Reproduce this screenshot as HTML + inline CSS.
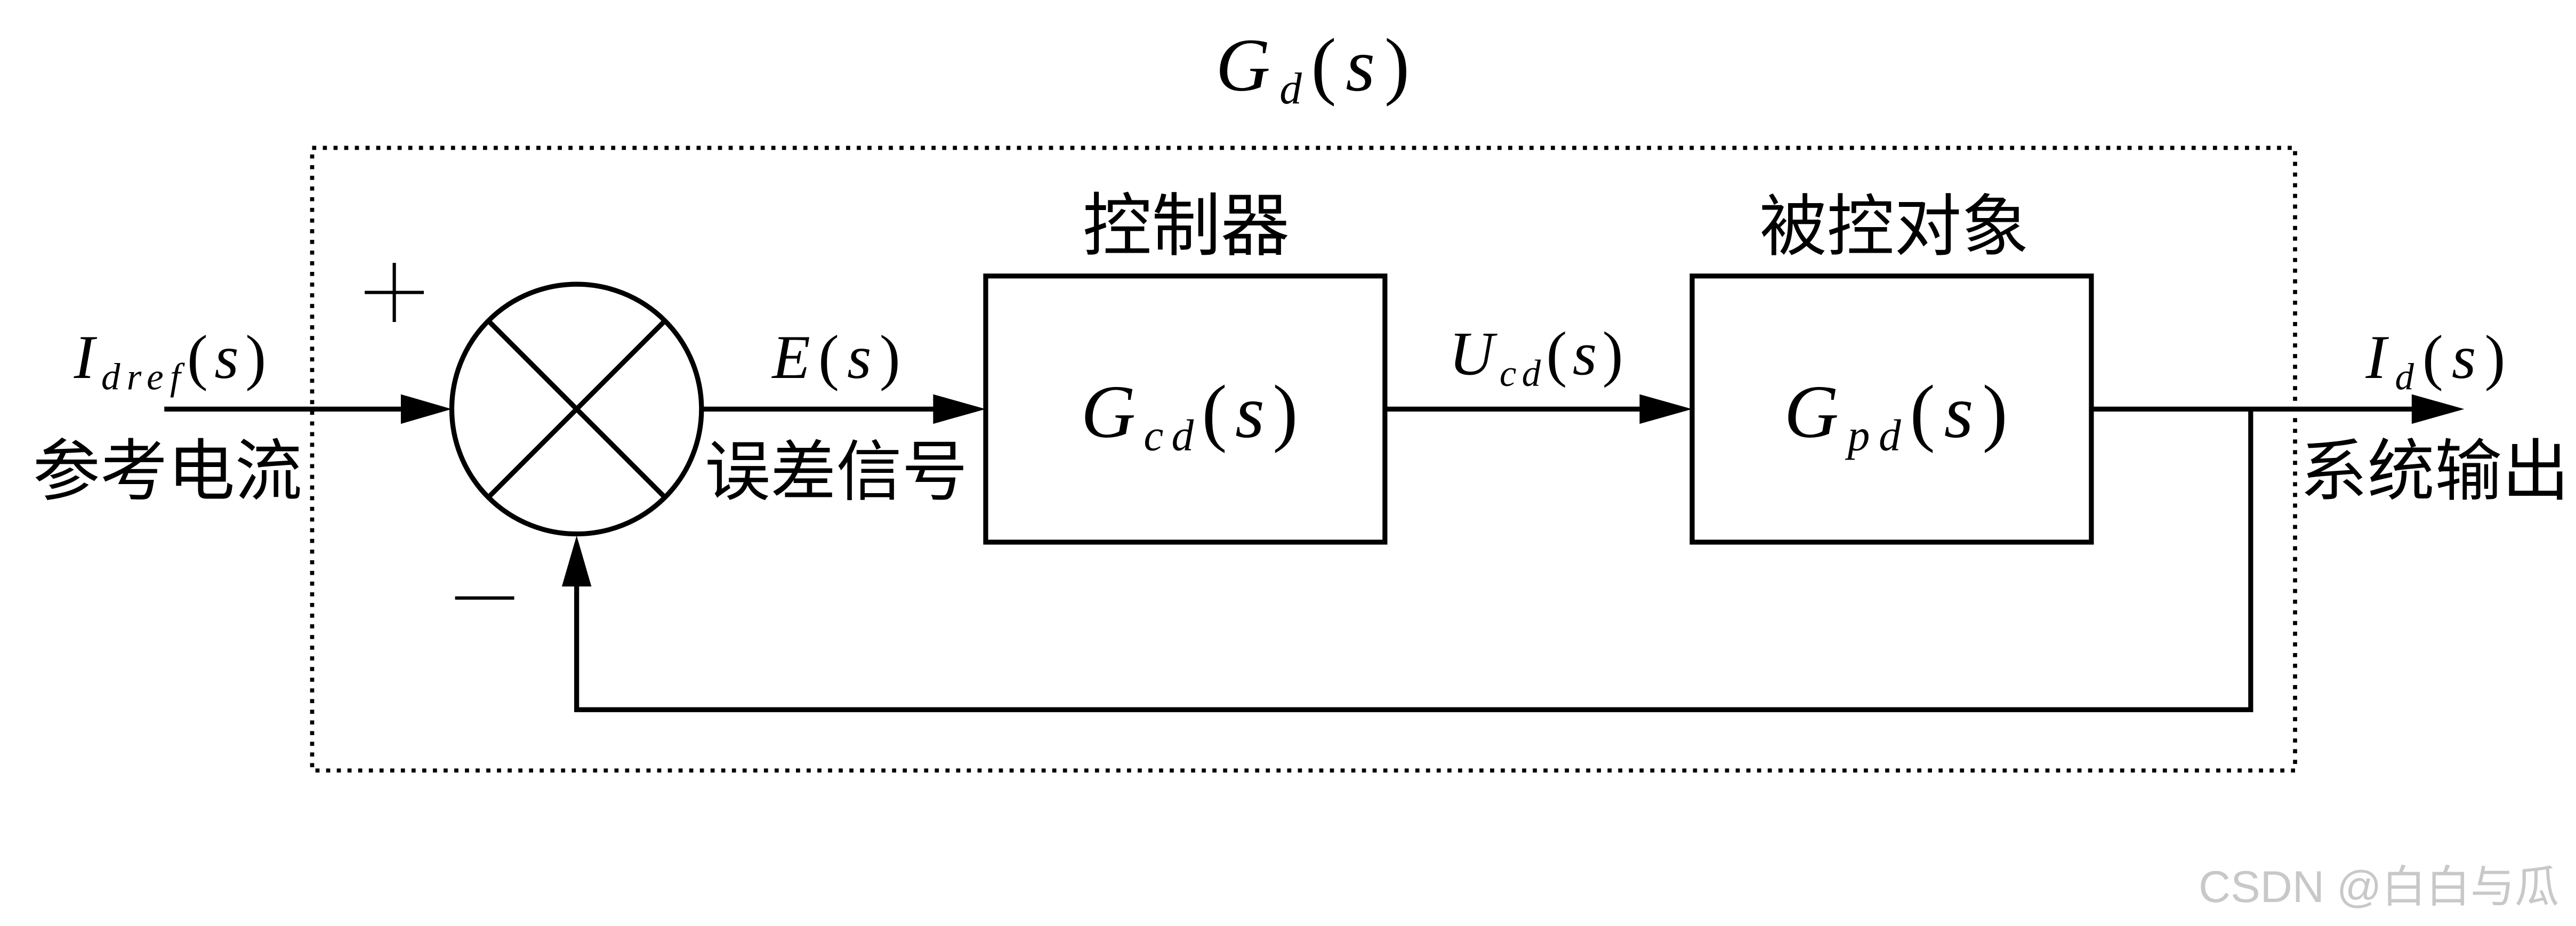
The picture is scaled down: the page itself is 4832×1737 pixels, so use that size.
<!DOCTYPE html>
<html><head><meta charset="utf-8"><style>
html,body{margin:0;padding:0;background:#fff;}
svg{display:block;}
.m{font-family:"Liberation Serif",serif;font-style:italic;}
.u{font-family:"Liberation Serif",serif;}
.c{font-family:"Liberation Sans","Noto Sans CJK SC",sans-serif;}
</style></head><body>
<svg width="4832" height="1737" viewBox="0 0 1568 563.65" xmlns="http://www.w3.org/2000/svg">
<rect width="1568" height="564" fill="#fff"/>
<g fill="none" stroke="#000" stroke-width="3">
<rect x="190" y="90" width="1207" height="379" stroke-dasharray="2.5,4" stroke-width="2.5"/>
<line x1="100" y1="249" x2="244" y2="249"/>
<path d="M244,240 L275,249 L244,258 Z" fill="#000" stroke="none"/>
<circle cx="351" cy="249" r="76"/>
<line x1="297" y1="195" x2="405" y2="303"/>
<line x1="405" y1="195" x2="297" y2="303"/>
<line x1="427" y1="249" x2="570" y2="249"/>
<path d="M568,240 L600,249 L568,258 Z" fill="#000" stroke="none"/>
<rect x="600" y="168" width="243" height="162"/>
<line x1="843" y1="249" x2="1000" y2="249"/>
<path d="M998,240 L1030,249 L998,258 Z" fill="#000" stroke="none"/>
<rect x="1030" y="168" width="243" height="162"/>
<line x1="1273" y1="249" x2="1470" y2="249"/>
<path d="M1468,240 L1500,249 L1468,258 Z" fill="#000" stroke="none"/>
<polyline points="1370,249 1370,432 351,432 351,355"/>
<path d="M342,357 L351,326 L360,357 Z" fill="#000" stroke="none"/>
<g stroke-width="2"><line x1="222" y1="178" x2="258" y2="178"/><line x1="240" y1="160" x2="240" y2="196"/><line x1="277" y1="364" x2="313" y2="364"/></g>
</g>
<g fill="#000">
<text x="740" y="55" class="m" font-size="46" textLength="118" lengthAdjust="spacing">G<tspan font-size="27" dy="8">d</tspan><tspan class="u" font-style="normal" dy="-8">(</tspan>s<tspan class="u" font-style="normal">)</tspan></text>
<text x="45" y="230" class="m" font-size="38" textLength="117" lengthAdjust="spacing">I<tspan font-size="23" dy="7">dref</tspan><tspan class="u" font-style="normal" dy="-7">(</tspan>s<tspan class="u" font-style="normal">)</tspan></text>
<text x="470" y="230" class="m" font-size="38" textLength="78" lengthAdjust="spacing">E<tspan class="u" font-style="normal">(</tspan>s<tspan class="u" font-style="normal">)</tspan></text>
<text x="882" y="228" class="m" font-size="38" textLength="106" lengthAdjust="spacing">U<tspan font-size="23" dy="7">cd</tspan><tspan class="u" font-style="normal" dy="-7">(</tspan>s<tspan class="u" font-style="normal">)</tspan></text>
<text x="1440" y="230" class="m" font-size="38" textLength="85" lengthAdjust="spacing">I<tspan font-size="23" dy="7">d</tspan><tspan class="u" font-style="normal" dy="-7">(</tspan>s<tspan class="u" font-style="normal">)</tspan></text>
<text x="658" y="266" class="m" font-size="46" textLength="132" lengthAdjust="spacing">G<tspan font-size="27" dy="8">cd</tspan><tspan class="u" font-style="normal" dy="-8">(</tspan>s<tspan class="u" font-style="normal">)</tspan></text>
<text x="1086" y="266" class="m" font-size="46" textLength="136" lengthAdjust="spacing">G<tspan font-size="27" dy="8">pd</tspan><tspan class="u" font-style="normal" dy="-8">(</tspan>s<tspan class="u" font-style="normal">)</tspan></text>
<g text-anchor="middle">
<text x="722" y="152" class="c" font-size="42">控制器</text>
<text x="1153" y="152" class="c" font-size="41">被控对象</text>
<text x="102" y="301" class="c" font-size="41">参考电流</text>
<text x="509" y="301" class="c" font-size="40">误差信号</text>
<text x="1482" y="301" class="c" font-size="41">系统输出</text>
<text x="1448" y="549" class="c" font-size="27" fill="#c8c8c8">CSDN @白白与瓜</text>
</g>
</g>
</svg>
</body></html>
